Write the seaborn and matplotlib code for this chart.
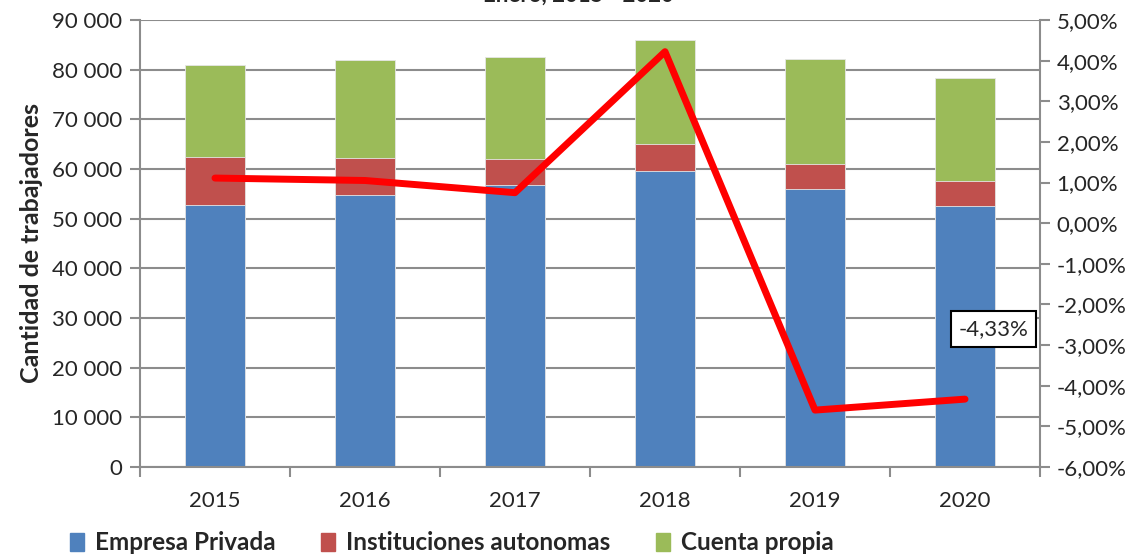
import numpy as np
import pandas as pd
import matplotlib
matplotlib.use("Agg")
import matplotlib.pyplot as plt
import seaborn as sns
from matplotlib.ticker import FuncFormatter, FixedLocator
from matplotlib.patches import Patch

# ---------- data ----------
years = ["2015", "2016", "2017", "2018", "2019", "2020"]
empresa_privada = [52700, 54800, 56800, 59650, 56000, 52500]
instituciones = [9700, 7500, 5300, 5450, 5050, 5000]
cuenta_propia = [18600, 19600, 20450, 20900, 21050, 20800]
variacion = [1.11, 1.05, 0.75, 4.22, -4.60, -4.33]
legend_labels = ["Empresa Privada", "Instituciones autonomas", "Cuenta propia"]

BLUE, RED, GREEN = "#4F81BD", "#C0504D", "#9BBB59"
GRID = "#8C8C8C"

sns.set_theme(style="white")
plt.rcParams["font.family"] = ["Lato", "DejaVu Sans"]

df = pd.DataFrame({"year": years, "emp": empresa_privada,
                   "inst": instituciones, "cuenta": cuenta_propia})
df["lvl2"] = df["emp"] + df["inst"]
df["lvl3"] = df["lvl2"] + df["cuenta"]

fig = plt.figure(figsize=(11.41, 5.58), dpi=100)
ax = fig.add_axes([0.1227, 0.1631, 0.7888, 0.8011])

# stacked bars: draw totals first, then overlay lower segments
for col, color in [("lvl3", GREEN), ("lvl2", RED), ("emp", BLUE)]:
    sns.barplot(data=df, x="year", y=col, color=color, width=0.4,
                saturation=1, edgecolor="#E6E6E6", linewidth=0.6, ax=ax)

ax.set_ylim(0, 90000)
ax.set_xlim(-0.5, 5.5)
ax.set_yticks(np.arange(0, 90001, 10000))
ax.yaxis.set_major_formatter(FuncFormatter(lambda v, p: f"{int(v):,}".replace(",", " ")))
ax.yaxis.grid(True, color=GRID, linewidth=1.5)
ax.set_axisbelow(True)
ax.set_xlabel("")
ax.set_ylabel("Cantidad de trabajadores", fontsize=18, fontweight="bold", labelpad=6)
ax.tick_params(axis="y", labelsize=16, length=7, color=GRID, left=True, width=1.5, pad=6)
ax.tick_params(axis="x", labelsize=16, length=0, pad=17)
ax.xaxis.set_minor_locator(FixedLocator(np.arange(-0.5, 6, 1)))
ax.tick_params(axis="x", which="minor", length=7, color=GRID, bottom=True, width=1.5)
for s in ["left", "right", "bottom"]:
    ax.spines[s].set_color(GRID)
    ax.spines[s].set_linewidth(1.5)
ax.spines["top"].set_visible(False)

# line on secondary axis
ax2 = ax.twinx()
sns.lineplot(x=np.arange(len(years)), y=variacion, color="#FF0000",
             linewidth=5, ax=ax2, solid_capstyle="round")
ax2.set_ylim(-6, 5)
ax2.set_yticks(np.arange(-6, 5.01, 1))
ax2.yaxis.set_major_formatter(FuncFormatter(lambda v, p: f"{v:.2f}%".replace(".", ",")))
ax2.tick_params(axis="y", labelsize=16, length=7, color=GRID, right=True, width=1.5, pad=5)
for s in ax2.spines.values():
    s.set_visible(False)

ax2.annotate("-4,33%", xy=(5, variacion[-1]), xytext=(5.19, -2.6),
             ha="center", va="center", fontsize=16,
             bbox=dict(boxstyle="square,pad=0.35", fc="white", ec="black", lw=1.5))

fig.text(0.507, 1.008, "Enero, 2015 - 2020", ha="center", va="center",
         fontsize=16, fontweight="bold")

handles = [Patch(color=c) for c in (BLUE, RED, GREEN)]
fig.legend(handles, legend_labels, loc="center", bbox_to_anchor=(0.396, 0.027),
           ncol=3, frameon=False, handlelength=0.55, handleheight=0.8,
           handletextpad=0.45, columnspacing=1.9,
           prop={"size": 17.5, "weight": "bold"})

fig.savefig("out.png", dpi=100)
